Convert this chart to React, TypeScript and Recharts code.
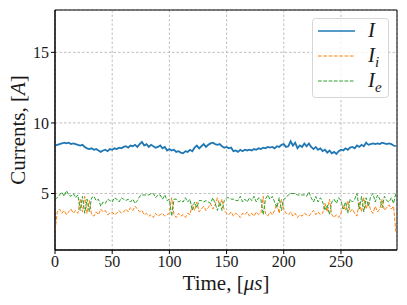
import React from 'react';
import { LineChart, Line, XAxis, YAxis, CartesianGrid, ReferenceArea } from 'recharts';

// sampling grid, microseconds (every 2 us)
const time = Array.from({ length: 150 }, (_, i) => i * 2);

// total current I
const currentI = [
    8.4, 8.45, 8.5, 8.55, 8.6, 8.55,
    8.6, 8.5, 8.55, 8.5, 8.45,
    8.4, 8.45, 8.3, 8.2, 8.15,
    8.2, 8.1, 8.15, 8.05, 7.95,
    8.05, 8.1, 8.0, 8.15, 8.1,
    8.2, 8.15, 8.25, 8.2, 8.3,
    8.35, 8.25, 8.4, 8.35, 8.45,
    8.3, 8.5, 8.65, 8.4, 8.5,
    8.3, 8.45, 8.35, 8.25, 8.3,
    8.4, 8.2, 8.3, 8.05, 8.15,
    8.05, 8.1, 7.95, 8.0, 7.9,
    7.85, 8.0, 7.95, 8.1, 8.0,
    8.25, 8.4, 8.2, 8.35, 8.5,
    8.3, 8.45, 8.55, 8.6, 8.5,
    8.45, 8.5, 8.35, 8.25, 8.3,
    8.2, 8.25, 8.0, 8.05, 7.95,
    8.1, 8.0, 8.1, 8.05, 8.1,
    8.05, 8.15, 8.1, 8.2, 8.15,
    8.25, 8.2, 8.3, 8.25, 8.3,
    8.2, 8.35, 8.3, 8.45, 8.5,
    8.3, 8.35, 8.7, 8.4, 8.6,
    8.2, 8.4, 8.3, 8.55, 8.35,
    8.55, 8.3, 8.15, 8.3, 8.1,
    8.2, 8.0, 8.1, 7.9, 8.05,
    7.85, 7.95, 7.8, 8.0, 8.1,
    8.05, 8.2, 8.1, 8.25, 8.3,
    8.2, 8.4, 8.3, 8.45, 8.35,
    8.6, 8.45, 8.5, 8.55, 8.5,
    8.55, 8.5, 8.6, 8.55, 8.5,
    8.55, 8.5, 8.4, 8.35,
];

// ion current I_i
const currentIi = [
    2.4, 3.7, 3.9, 3.6, 3.8, 3.5,
    3.7, 3.9, 3.6, 3.8, 3.6,
    4.6, 3.7, 4.8, 3.6, 4.5,
    3.5, 3.4, 3.7, 3.5, 3.9,
    3.7, 3.8, 3.5, 3.6, 3.7,
    3.5, 3.6, 3.8, 3.6, 3.7,
    3.9, 3.7, 4.0, 3.8, 4.1,
    3.9, 3.7, 3.8, 3.5, 3.6,
    3.4, 3.5, 3.3, 3.6, 3.4,
    3.5, 3.6, 3.4, 3.5, 3.6,
    4.7, 3.5, 3.3, 3.6, 3.4,
    3.5, 3.3, 3.6, 3.5, 4.2,
    3.8, 4.4, 3.7, 3.9, 4.1,
    3.8, 4.0, 4.3, 3.9, 4.2,
    4.7, 4.1, 4.6, 3.8, 3.6,
    3.5, 3.7, 3.4, 3.6, 3.5,
    3.3, 3.6, 3.5, 3.7, 3.4,
    3.6, 3.4, 3.7, 3.5, 3.6,
    4.8, 3.6, 3.4, 3.7, 3.5,
    3.8, 4.3, 3.6, 4.6, 3.9,
    3.6, 3.5, 3.7, 3.4, 3.6,
    3.3, 3.5, 3.4, 3.6, 3.5,
    3.4, 3.6, 3.8, 3.5, 3.7,
    3.5, 3.6, 4.3, 3.7, 4.6,
    3.5, 3.3, 3.5, 3.3, 3.6,
    4.2, 3.8, 4.5, 3.7, 3.9,
    3.6, 3.4, 4.4, 3.7, 4.7,
    3.9, 4.4, 3.8, 3.6, 4.1,
    3.7, 3.9, 4.6, 3.8, 4.0,
    4.2, 3.9, 4.1, 2.3,
];

// electron current I_e
const currentIe = [
    4.6, 4.7, 4.9, 5.1, 4.8, 5.2,
    4.9, 4.8, 5.0, 4.7, 4.9,
    3.8, 4.8, 3.6, 4.6, 3.7,
    4.7, 4.8, 4.5, 4.6, 4.1,
    4.4, 4.3, 4.6, 4.5, 4.4,
    4.7, 4.6, 4.4, 4.7, 4.6,
    4.5, 4.6, 4.4, 4.6, 4.3,
    4.5, 4.8, 4.9, 4.9, 4.9,
    4.9, 5.0, 5.0, 4.7, 4.9,
    4.9, 4.6, 4.9, 4.5, 4.6,
    3.4, 4.6, 4.6, 4.4, 4.5,
    4.4, 4.7, 4.4, 4.6, 3.8,
    4.4, 4.0, 4.5, 4.5, 4.4,
    4.5, 4.4, 4.3, 4.7, 4.3,
    3.8, 4.4, 3.8, 4.5, 4.7,
    4.7, 4.6, 4.6, 4.5, 4.5,
    4.8, 4.4, 4.6, 4.4, 4.7,
    4.5, 4.8, 4.4, 4.7, 4.6,
    3.5, 4.6, 4.9, 4.6, 4.8,
    4.4, 4.0, 4.7, 3.8, 4.6,
    4.7, 4.9, 5.0, 5.0, 5.0,
    4.9, 4.9, 4.9, 4.9, 4.8,
    5.1, 4.7, 4.4, 4.8, 4.4,
    4.7, 4.4, 3.8, 4.2, 3.5,
    4.4, 4.6, 4.3, 4.7, 4.5,
    3.9, 4.4, 3.6, 4.6, 4.4,
    4.6, 5.0, 3.9, 4.8, 3.7,
    4.7, 4.1, 4.8, 5.0, 4.4,
    4.9, 4.6, 4.0, 4.8, 4.5,
    4.4, 4.7, 4.3, 5.0,
];

const xTicks = [0, 50, 100, 150, 200, 250];
const yTicks = [5, 10, 15];

const data = time.map((t, i) => ({
    t,
    I: currentI[i],
    Ii: currentIi[i],
    Ie: currentIe[i],
}));

const FONT = "'Liberation Serif'";
const INK = '#1a1a1a';

function XTitle({ viewBox }: any) {
    const cx = viewBox.x + viewBox.width / 2;
    return (
        <text x={cx} y={viewBox.y + 40} textAnchor="middle" fontFamily={FONT} fontSize={21} fill={INK}>
            Time, [<tspan fontStyle="italic">μs</tspan>]
        </text>
    );
}

function YTitle({ viewBox }: any) {
    const cy = viewBox.y + viewBox.height / 2;
    const x = 25;
    return (
        <text
            x={x}
            y={cy}
            transform={`rotate(-90 ${x} ${cy})`}
            textAnchor="middle"
            fontFamily={FONT}
            fontSize={21}
            fill={INK}
        >
            Currents, [<tspan fontStyle="italic">A</tspan>]
        </text>
    );
}

function LegendBox() {
    const rows = [
        { color: '#1f77b4', dash: undefined, width: 1.5, main: 'I', sub: '' },
        { color: '#ff7f0e', dash: '3.7 1.6', width: 1, main: 'I', sub: 'i' },
        { color: '#2ca02c', dash: '3.7 1.6', width: 1, main: 'I', sub: 'e' },
    ];
    return (
        <svg
            width={77}
            height={80}
            style={{ position: 'absolute', left: 312, top: 18, overflow: 'visible' }}
        >
            <rect x={0.5} y={0.5} width={76} height={79} rx={3} fill="rgba(255,255,255,0.8)" stroke="#d6d6d6" />
            {rows.map((r, i) => {
                const y = 13 + i * 25;
                return (
                    <g key={i}>
                        <line x1={6} x2={43} y1={y} y2={y} stroke={r.color} strokeWidth={r.width} strokeDasharray={r.dash} />
                        <text x={56} y={y + 6} fontFamily={FONT} fontSize={21} fontStyle="italic" fill={INK}>
                            {r.main}
                            {r.sub && (
                                <tspan fontSize={15} dy={5}>
                                    {r.sub}
                                </tspan>
                            )}
                        </text>
                    </g>
                );
            })}
        </svg>
    );
}

export default function App() {
    return (
        <div style={{ position: 'fixed', left: 0, top: 0, width: 407, height: 305, background: '#fff' }}>
            <LineChart width={407} height={305} data={data} margin={{ top: 10, right: 10, bottom: 0, left: 0 }}>
                <CartesianGrid stroke="#b0b0b0" strokeDasharray="2.5 2" strokeWidth={0.8} />
                <XAxis
                    type="number"
                    dataKey="t"
                    domain={[0, 299]}
                    ticks={xTicks}
                    allowDataOverflow
                    height={55}
                    tickSize={4}
                    axisLine={{ stroke: '#000' }}
                    tickLine={{ stroke: '#000' }}
                    tick={{ fontFamily: FONT, fontSize: 16, fill: INK }}
                    label={<XTitle />}
                />
                <YAxis
                    type="number"
                    domain={[1, 18]}
                    ticks={yTicks}
                    allowDataOverflow
                    width={55}
                    tickSize={4}
                    axisLine={{ stroke: '#000' }}
                    tickLine={{ stroke: '#000' }}
                    tick={{ fontFamily: FONT, fontSize: 16, fill: INK }}
                    label={<YTitle />}
                />
                <Line
                    type="linear"
                    dataKey="I"
                    stroke="#1f77b4"
                    strokeWidth={1.8}
                    dot={false}
                    isAnimationActive={false}
                />
                <Line
                    type="linear"
                    dataKey="Ii"
                    stroke="#ff7f0e"
                    strokeWidth={1}
                    strokeDasharray="3.7 1.6"
                    dot={false}
                    isAnimationActive={false}
                />
                <Line
                    type="linear"
                    dataKey="Ie"
                    stroke="#2ca02c"
                    strokeWidth={1}
                    strokeDasharray="3.7 1.6"
                    dot={false}
                    isAnimationActive={false}
                />
                <ReferenceArea x1={0} x2={299} y1={1} y2={18} fill="none" stroke="#000" strokeWidth={1} ifOverflow="visible" />
            </LineChart>
            <LegendBox />
        </div>
    );
}
